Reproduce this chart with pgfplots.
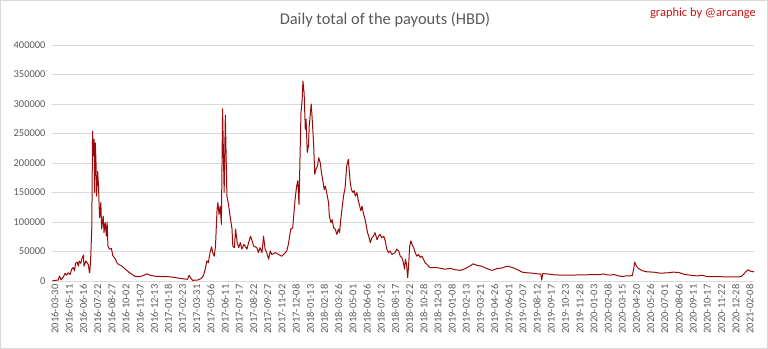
\documentclass[border=0pt]{standalone}
\usepackage{pgfplots}
\pgfplotsset{compat=1.18}
\usepackage{fontspec}
\setmainfont{Carlito}
\definecolor{lineRed}{RGB}{155,10,10}
\definecolor{txtgray}{RGB}{89,89,89}
\definecolor{gridgray}{RGB}{217,217,217}
\definecolor{sigred}{RGB}{200,20,20}
\begin{document}
\begin{tikzpicture}
\useasboundingbox (-52bp,-68bp) rectangle (716bp,281bp);
\draw[gridgray, line width=0.8bp] (-51.6bp,-67.6bp) rectangle (715.6bp,280.6bp);
\begin{axis}[
  at={(0,0)}, anchor=south west,
  scale only axis, width=702bp, height=236bp,
  xmin=0, xmax=1782, ymin=0, ymax=400000,
  axis line style={draw=none},
  ymajorgrids, major grid style={draw=gridgray, line width=0.8bp},
  major tick length=0pt, tick style={draw=none},
  ytick={0,50000,...,400000}, scaled y ticks=false,
  /pgf/number format/assume math mode=true,
  yticklabel style={/pgf/number format/fixed, /pgf/number format/1000 sep={}, font=\fontsize{10.5}{12}\selectfont, text=txtgray, xshift=-3bp},
  xtick={0,36,...,1764},
  xticklabels={2016-03-30,2016-05-11,2016-06-16,2016-07-22,2016-08-27,2016-10-02,2016-11-07,2016-12-13,2017-01-18,2017-02-23,2017-03-31,2017-05-06,2017-06-11,2017-07-17,2017-08-22,2017-09-27,2017-11-02,2017-12-08,2018-01-13,2018-02-18,2018-03-26,2018-05-01,2018-06-06,2018-07-12,2018-08-17,2018-09-22,2018-10-28,2018-12-03,2019-01-08,2019-02-13,2019-03-21,2019-04-26,2019-06-01,2019-07-07,2019-08-12,2019-09-17,2019-10-23,2019-11-28,2020-01-03,2020-02-08,2020-03-15,2020-04-20,2020-05-26,2020-07-01,2020-08-06,2020-09-11,2020-10-17,2020-11-22,2020-12-28,2021-02-08},
  xticklabel style={rotate=90, anchor=east, font=\fontsize{10.5}{12}\selectfont, text=txtgray, yshift=-3bp},
]
\addplot[color=lineRed, line width=1bp, line join=round] table {
0 0
8 1000
16 1700
19 8500
23 2000
29 7000
33 13000
37 10000
41 14000
46 11000
50 20000
54 23000
57 17000
60 30000
64 32000
67 25000
69 34000
73 30000
76 38000
80 44000
81 25000
84 30000
86 34000
89 31000
92 28000
93 24000
95 14000
96 15000
98 35000
101 90000
103 254000
105 212000
107 240000
108 150000
110 234000
112 195000
113 144000
116 186000
118 161000
120 121000
121 107000
124 133000
126 88000
130 110000
132 82000
135 99000
138 76000
140 100000
142 59000
146 54000
151 55000
154 43500
161 37000
165 31000
169 28000
178 25000
186 20000
195 15000
203 11300
212 7300
220 7300
229 8500
241 12000
250 9600
263 8000
280 7300
297 7300
314 5600
331 4000
344 2800
348 9600
353 4000
357 1100
370 1700
378 4000
384 8500
389 20000
393 34000
397 31000
401 48000
405 58000
408 48000
412 42000
415 59000
419 121000
421 133000
424 113000
427 127000
430 96000
433 292000
437 150000
440 281000
444 144000
448 130000
452 110000
457 88000
459 59000
463 56500
466 88000
470 65000
474 56500
478 65000
482 54000
487 62000
495 54000
499 65000
504 76000
508 68000
512 59000
520 56500
524 48000
528 56500
533 48000
537 76000
541 54000
545 48000
550 37000
554 51000
558 45000
567 48000
575 45000
583 42000
588 45000
596 51000
600 62000
606 88000
611 90000
617 138000
621 161000
624 170000
627 130000
632 285000
635 308000
637 339000
640 319000
643 257000
645 274000
648 218000
651 229000
653 263000
658 300000
660 280000
664 234000
667 181000
670 189000
674 195000
677 209000
681 200000
684 184000
687 172000
691 155000
694 161000
698 147000
702 133000
704 110000
708 99000
711 104000
715 90000
719 88000
723 79000
727 88000
730 82000
733 104000
737 127000
740 144000
744 158000
748 195000
752 206000
754 192000
757 167000
760 155000
764 150000
767 153000
770 144000
774 150000
777 138000
781 127000
784 119000
787 127000
791 113000
794 107000
798 93000
801 82000
804 76000
808 65000
812 73000
816 76000
820 82000
825 70000
829 76000
833 79000
837 73000
842 76000
846 68000
850 54000
854 48000
858 51000
863 45000
871 48000
875 54000
880 51000
884 42000
888 40000
892 31000
895 20000
897 37000
900 28000
903 5600
905 25000
908 59000
911 68000
914 62000
918 56500
922 48000
926 42000
930 45000
935 40000
939 42000
943 37000
947 31000
952 28000
956 25000
960 22600
969 22600
977 22600
986 21500
998 20000
1011 21500
1024 19000
1036 18000
1049 21000
1060 25000
1069 29000
1079 26500
1091 25000
1104 21000
1117 18000
1130 21000
1142 22000
1155 25000
1163 24000
1172 22000
1185 18000
1193 15000
1206 14000
1223 13000
1235 12000
1241 12000
1243 1500
1246 12500
1257 12000
1274 10500
1290 10000
1307 10000
1324 10000
1341 10500
1358 10500
1375 11000
1392 11000
1400 12000
1409 10500
1418 10000
1426 11000
1439 8600
1447 7500
1456 8600
1464 8600
1473 9200
1477 22000
1479 32000
1483 26000
1487 22000
1494 19000
1502 16700
1511 15500
1528 15000
1544 13200
1561 13800
1578 15000
1591 14400
1604 11500
1621 9800
1638 8600
1650 9800
1663 7500
1689 7500
1714 6900
1740 6900
1750 7500
1758 13200
1766 19000
1773 16700
1782 15500
};
\end{axis}
\node[font=\fontsize{16.5}{19}\selectfont, text=txtgray] at (333bp,261bp) {Daily total of the payouts (HBD)};
\node[font=\fontsize{12.5}{14}\selectfont, text=sigred] at (651bp,268bp) {graphic by @arcange};
\end{tikzpicture}
\end{document}
